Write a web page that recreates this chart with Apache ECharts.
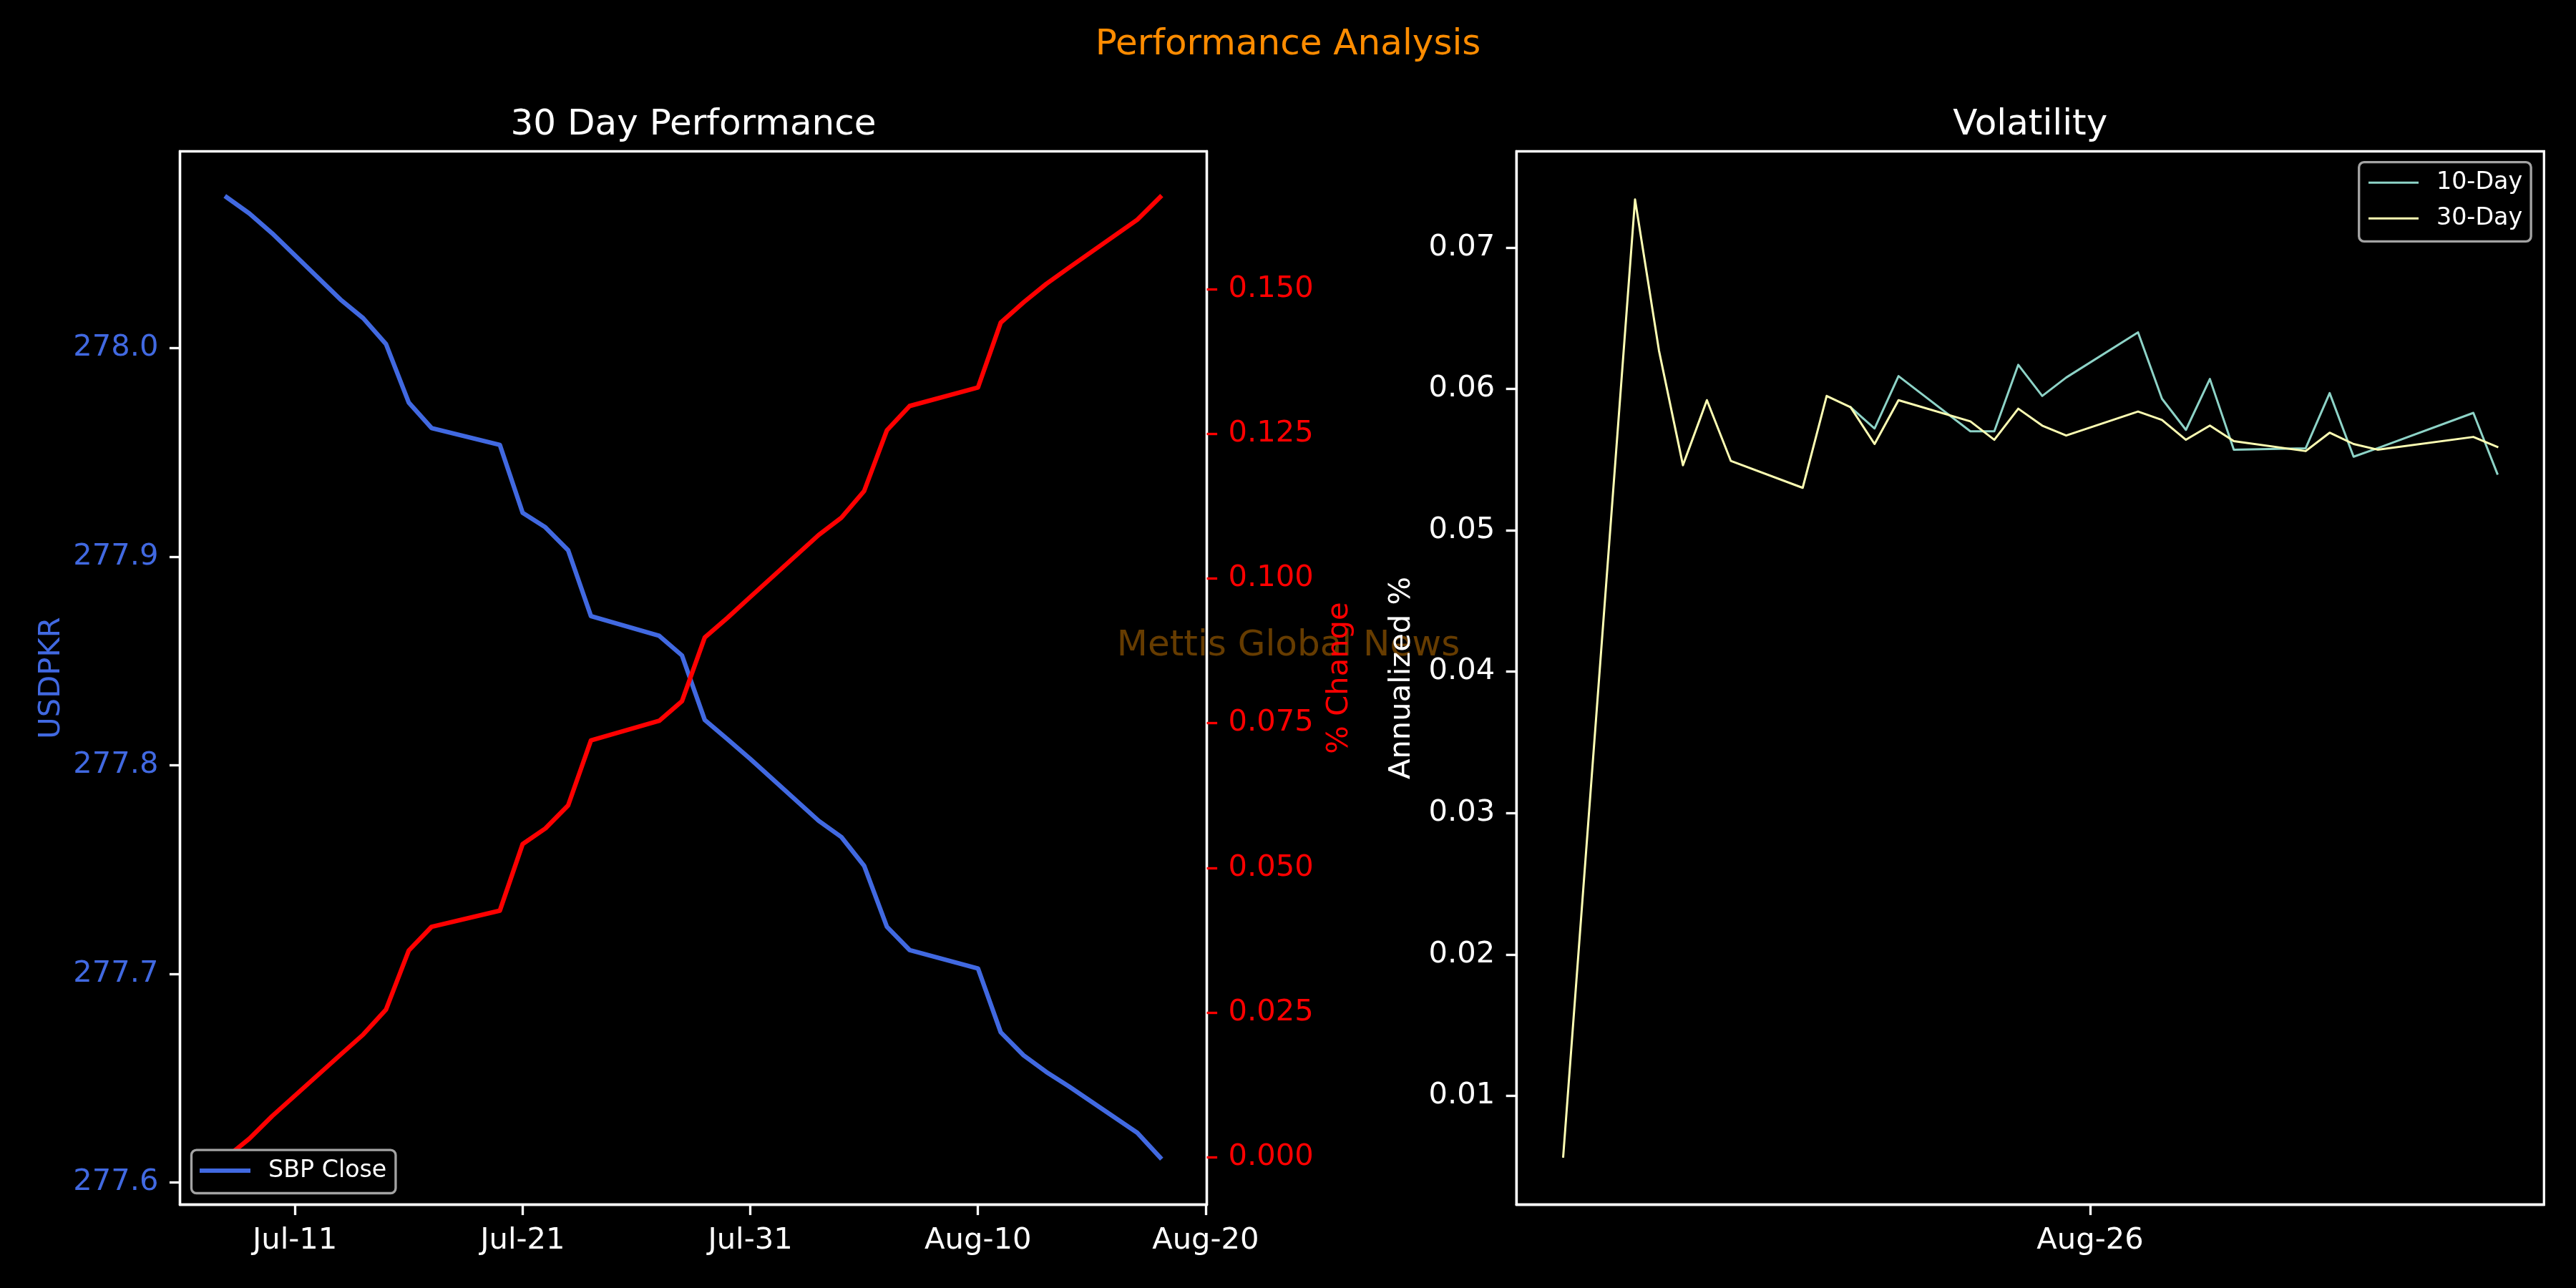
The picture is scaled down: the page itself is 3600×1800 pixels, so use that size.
<!DOCTYPE html>
<html>
<head>
<meta charset="utf-8">
<title>Performance Analysis</title>
<script src="https://cdn.jsdelivr.net/npm/echarts@6/dist/echarts.min.js"></script>
<style>
  html, body { margin: 0; padding: 0; background: #000; }
  #main { width: 3600px; height: 1800px; }
</style>
</head>
<body>
<div id="main"></div>
<script>
// left panel: 30 day performance
var perfDates = [
  '2026-07-08', '2026-07-09', '2026-07-10', '2026-07-13', '2026-07-14', '2026-07-15',
  '2026-07-16', '2026-07-17', '2026-07-20', '2026-07-21', '2026-07-22', '2026-07-23',
  '2026-07-24', '2026-07-27', '2026-07-28', '2026-07-29', '2026-07-30', '2026-07-31',
  '2026-08-03', '2026-08-04', '2026-08-05', '2026-08-06', '2026-08-07', '2026-08-10',
  '2026-08-11', '2026-08-12', '2026-08-13', '2026-08-14', '2026-08-17', '2026-08-18'
];
var sbpClose = [
  278.0722, 278.0644, 278.0549, 278.0232, 278.0142, 278.0018,
  277.9738, 277.9616, 277.9535, 277.9210, 277.9140, 277.9030,
  277.8715, 277.8620, 277.8526, 277.8217, 277.8124, 277.8030,
  277.7734, 277.7656, 277.7518, 277.7226, 277.7114, 277.7026,
  277.6720, 277.6610, 277.6530, 277.6460, 277.6238, 277.6120
];
var pctChange = [
  0.0000, 0.0032, 0.0071, 0.0177, 0.0212, 0.0255,
  0.0357, 0.0398, 0.0426, 0.0541, 0.0568, 0.0608,
  0.0720, 0.0754, 0.0788, 0.0898, 0.0932, 0.0968,
  0.1075, 0.1105, 0.1151, 0.1256, 0.1298, 0.1330,
  0.1442, 0.1477, 0.1509, 0.1537, 0.1620, 0.1659
];
var perfTickDates = ['2026-07-11', '2026-07-21', '2026-07-31', '2026-08-10', '2026-08-20'];
var perfTickLabels = ['Jul-11', 'Jul-21', 'Jul-31', 'Aug-10', 'Aug-20'];
var usdTicks = [277.6, 277.7, 277.8, 277.9, 278.0];
var pctTicks = [0, 0.025, 0.05, 0.075, 0.1, 0.125, 0.15];

// right panel: volatility
var volDates = [
  '2023-08-04', '2023-08-07', '2023-08-08', '2023-08-09', '2023-08-10', '2023-08-11',
  '2023-08-14', '2023-08-15', '2023-08-16', '2023-08-17', '2023-08-18', '2023-08-21',
  '2023-08-22', '2023-08-23', '2023-08-24', '2023-08-25', '2023-08-28', '2023-08-29',
  '2023-08-30', '2023-08-31', '2023-09-01', '2023-09-04', '2023-09-05', '2023-09-06',
  '2023-09-07', '2023-09-11', '2023-09-12'
];
var vol30 = [
  0.0057, 0.0734, 0.0627, 0.0546, 0.0592, 0.0549,
  0.0530, 0.0595, 0.0587, 0.0561, 0.0592, 0.0577,
  0.0564, 0.0586, 0.0574, 0.0567, 0.0584, 0.0578,
  0.0564, 0.0574, 0.0563, 0.0556, 0.0569, 0.0561,
  0.0557, 0.0566, 0.0559
];
var vol10Dates = [
  '2023-08-16', '2023-08-17', '2023-08-18', '2023-08-21', '2023-08-22', '2023-08-23',
  '2023-08-24', '2023-08-25', '2023-08-28', '2023-08-29', '2023-08-30', '2023-08-31',
  '2023-09-01', '2023-09-04', '2023-09-05', '2023-09-06', '2023-09-07', '2023-09-11',
  '2023-09-12'
];
var vol10 = [
  0.0587, 0.0572, 0.0609, 0.0570, 0.0570, 0.0617,
  0.0595, 0.0608, 0.0640, 0.0593, 0.0571, 0.0607,
  0.0557, 0.0558, 0.0597, 0.0552, 0.0558, 0.0583,
  0.0540
];
var volTickDates = ['2023-08-26'];
var volTickLabels = ['Aug-26'];
var volTicks = [0.01, 0.02, 0.03, 0.04, 0.05, 0.06, 0.07];

var DAY = 86400000;
var FONT = 'DejaVu Sans';
var LW = 3.33;

function ts(s) {
  var p = s.split('-');
  return new Date(+p[0], +p[1] - 1, +p[2]).getTime();
}
function pairs(dates, vals) {
  return dates.map(function (d, i) { return [ts(d), vals[i]]; });
}
function dateLabel(ticks, labels) {
  var t = ticks.map(ts);
  return function (v) {
    for (var i = 0; i < t.length; i++) {
      if (Math.abs(t[i] - v) < DAY / 2) return labels[i];
    }
    return '';
  };
}

// dates plotted on a plain value axis (timestamps), ticks only where the original had them
function dateAxis(grid, dates, ticks, labels) {
  var t0 = ts(dates[0]), t1 = ts(dates[dates.length - 1]);
  var pad = 0.05 * (t1 - t0);
  return {
    type: 'value', gridIndex: grid, min: t0 - pad, max: t1 + pad, scale: true,
    axisLine: { show: true, onZero: false, lineStyle: { color: '#fff', width: LW } },
    axisTick: { show: true, customValues: ticks.map(ts), length: 14.6, lineStyle: { color: '#fff', width: LW } },
    axisLabel: { customValues: ticks.map(ts), formatter: dateLabel(ticks, labels), color: '#fff',
                 fontSize: 41.67, fontFamily: FONT, margin: 30 },
    splitLine: { show: false }
  };
}

function valAxis(grid, pos, min, max, ticks, dec, labelColor, tickColor, name, gap) {
  return {
    type: 'value', gridIndex: grid, position: pos, min: min, max: max, scale: true,
    name: name, nameLocation: 'middle', nameGap: gap, nameRotate: 90,
    nameTextStyle: { color: labelColor, fontSize: 41.67, fontFamily: FONT },
    axisLine: { show: true, onZero: false, lineStyle: { color: '#fff', width: LW } },
    axisTick: { show: true, customValues: ticks, length: 14.6, lineStyle: { color: tickColor, width: LW } },
    axisLabel: { customValues: ticks, color: labelColor, fontSize: 41.67, fontFamily: FONT, margin: 30,
                 padding: [8, 0, 0, 0],
                 formatter: function (v) { return (+v).toFixed(dec); } },
    splitLine: { show: false }
  };
}

function line(name, x, y, data, color, width) {
  return {
    name: name, type: 'line', xAxisIndex: x, yAxisIndex: y, data: data,
    showSymbol: false, symbol: 'none', smooth: false,
    itemStyle: { color: color },
    lineStyle: { color: color, width: width, cap: 'square', join: 'round' },
    emphasis: { disabled: true }
  };
}

function label(text, x, y, color, z) {
  return {
    type: 'text', z: z || 10, silent: true,
    style: { text: text, x: x, y: y, fill: color, fontSize: 50, fontFamily: FONT,
             align: 'center', verticalAlign: 'middle' }
  };
}

var chart = echarts.init(document.getElementById('main'), null, { renderer: 'canvas' });

var legendBox = {
  backgroundColor: '#000', borderColor: '#a3a3a3', borderWidth: LW, borderRadius: 7,
  icon: 'rect', selectedMode: false,
  textStyle: { color: '#fff', fontSize: 33.3, fontFamily: FONT, lineHeight: 34, padding: [0, 0, 0, 20] }
};

chart.setOption({
  backgroundColor: '#000',
  animation: false,
  textStyle: { fontFamily: FONT },
  grid: [
    { left: 251.5, top: 211.5, width: 1435, height: 1472, show: true, borderColor: '#fff', borderWidth: LW },
    { left: 2119.3, top: 211.5, width: 1436, height: 1472, show: true, borderColor: '#fff', borderWidth: LW }
  ],
  xAxis: [
    dateAxis(0, perfDates, perfTickDates, perfTickLabels),
    dateAxis(1, volDates, volTickDates, volTickLabels)
  ],
  yAxis: [
    valAxis(0, 'left', 277.5894, 278.0942, usdTicks, 1, '#4169E1', '#fff', 'USDPKR', 158),
    valAxis(0, 'right', -0.0082, 0.1738, pctTicks, 3, '#ff0000', '#ff0000', '% Change', 165),
    valAxis(1, 'left', 0.0023, 0.0768, volTicks, 2, '#fff', '#fff', 'Annualized %', 139)
  ],
  legend: [
    Object.assign({}, legendBox, {
      data: ['SBP Close'], left: 267.5, top: 1607.2, orient: 'vertical',
      itemWidth: 71, itemHeight: 6, padding: [11.8, 12.6, 14.5, 11.5]
    }),
    Object.assign({}, legendBox, {
      data: ['10-Day', '30-Day'], left: 3296.7, top: 226.7, orient: 'vertical', itemGap: 16,
      itemWidth: 70, itemHeight: 3, padding: [11.6, 12, 15, 13.3]
    })
  ],
  graphic: [
    label('Mettis Global News', 1800.5, 903, 'rgba(255,150,0,0.4)', -1),
    label('Performance Analysis', 1800, 63, '#ff8c00'),
    label('30 Day Performance', 969, 175, '#fff'),
    label('Volatility', 2837.3, 175, '#fff')
  ],
  series: [
    line('SBP Close', 0, 0, pairs(perfDates, sbpClose), '#4169E1', 6.25),
    line('% Change', 0, 1, pairs(perfDates, pctChange), '#ff0000', 6.25),
    line('10-Day', 1, 2, pairs(vol10Dates, vol10), '#8dd3c7', 3),
    line('30-Day', 1, 2, pairs(volDates, vol30), '#feffb3', 3)
  ]
});
</script>
</body>
</html>
